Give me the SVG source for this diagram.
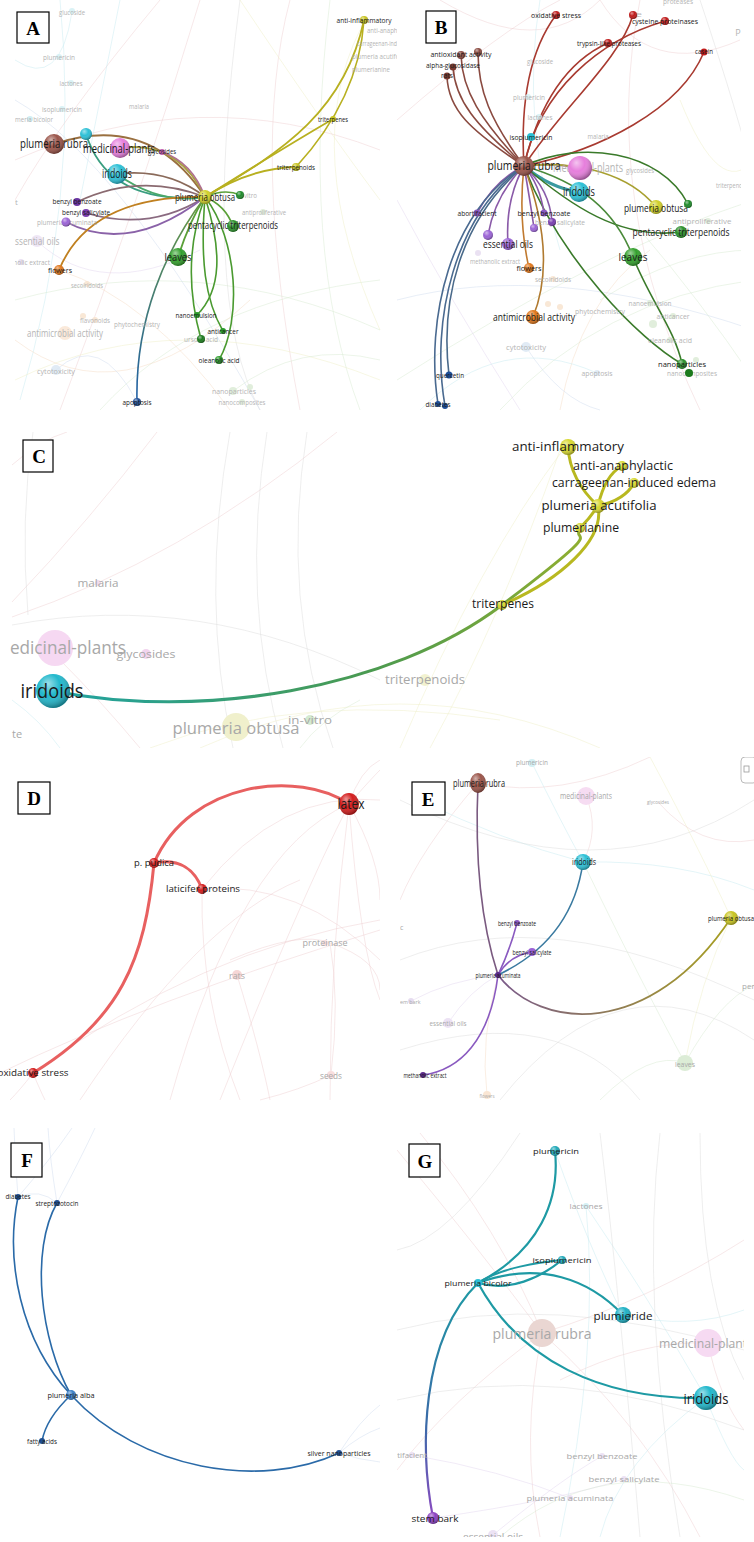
<svg xmlns="http://www.w3.org/2000/svg" width="754" height="1542" viewBox="0 0 754 1542">
<style>
.fl{fill:none;stroke-width:.8;opacity:.6}
.ed{fill:none;stroke-linecap:round}
.lab{font-family:"Open Sans","Liberation Sans",sans-serif;fill:#1a1a1a;text-anchor:middle}
.st{text-anchor:start}
.fd{fill:#a8a8a8}
.bx{fill:#fff;stroke:#000;stroke-width:1.2}
.bl{font-family:"Liberation Serif",serif;font-weight:bold;font-size:19px;text-anchor:middle;fill:#000}
.pk{stroke:#efcfd0}.cy{stroke:#c6eaf0}.gr{stroke:#d6ead0}.ye{stroke:#efefc6}.bu{stroke:#cfdcee}.pu{stroke:#e2d4ee}.gy{stroke:#dcdcdc}.or{stroke:#f4dcc4}
</style>
<defs>
<radialGradient id="sh" cx="40%" cy="35%" r="65%" fx="35%" fy="28%">
<stop offset="0" stop-color="#fff" stop-opacity=".55"/>
<stop offset=".5" stop-color="#fff" stop-opacity="0"/>
<stop offset="1" stop-color="#000" stop-opacity=".35"/>
</radialGradient>
<linearGradient id="gC" x1="0" x2="1" y1="0" y2="0"><stop offset="0" stop-color="#1fa3a3"/><stop offset=".6" stop-color="#4a9a50"/><stop offset="1" stop-color="#8fae30"/></linearGradient>
<linearGradient id="gE" x1="0" x2="1" y1="0" y2="0"><stop offset="0" stop-color="#7a5a8a"/><stop offset="1" stop-color="#a8a020"/></linearGradient>
<linearGradient id="gG" x1="0" x2="0" y1="0" y2="1"><stop offset="0" stop-color="#1e9aa4"/><stop offset=".6" stop-color="#3a6aa8"/><stop offset="1" stop-color="#8a4ac0"/></linearGradient>
<linearGradient id="gAp" x1="0" x2="0" y1="1" y2="0"><stop offset="0" stop-color="#1f5fa8"/><stop offset="1" stop-color="#6a9a40"/></linearGradient>
<clipPath id="cA"><rect x="15" y="0" width="382" height="411"/></clipPath>
<clipPath id="cB"><rect x="397" y="0" width="344" height="411"/></clipPath>
<clipPath id="cC"><rect x="10" y="432" width="712" height="316"/></clipPath>
<clipPath id="cD"><rect x="0" y="760" width="380" height="341"/></clipPath>
<clipPath id="cE"><rect x="400" y="757" width="354" height="344"/></clipPath>
<clipPath id="cF"><rect x="0" y="1128" width="380" height="412"/></clipPath>
<clipPath id="cG"><rect x="397" y="1133" width="347" height="404"/></clipPath>
</defs>
<rect width="754" height="1542" fill="#fff"/>

<!-- ================= PANEL A ================= -->
<g id="panelA" clip-path="url(#cA)">
<g id="A-faint">
<path class="fl cy" d="M60,0 Q80,200 20,400"/>
<path class="fl pk" d="M160,0 Q60,120 15,200"/>
<path class="fl pk" d="M200,0 Q140,200 60,410"/>
<path class="fl gy" d="M240,0 Q200,300 260,410"/>
<path class="fl pk" d="M290,0 Q250,150 300,410"/>
<path class="fl gr" d="M15,300 Q200,250 380,330"/>
<path class="fl ye" d="M15,380 Q180,300 380,380"/>
<path class="fl gr" d="M100,410 Q200,300 380,280"/>
<path class="fl or" d="M15,340 Q120,420 250,300"/>
<path class="fl ye" d="M240,0 Q320,120 380,200"/>
<path class="fl pk" d="M15,160 Q200,80 380,150"/>
<path class="fl cy" d="M120,0 Q100,100 80,200"/>
<path class="fl bu" d="M15,100 Q120,160 260,410"/>
<path class="fl gr" d="M330,0 Q300,250 360,410"/>
<path class="fl ye" d="M360,30 Q300,150 380,330"/>
<path class="fl cy" d="M15,60 Q60,90 72,12"/>
<path class="fl or" d="M59,270 Q150,300 230,410"/>
<path class="fl bu" d="M56,370 Q100,330 137,402"/>
<path class="fl gr" d="M233,391 Q300,340 380,360"/>
<path class="fl pu" d="M37,241 Q100,300 200,250"/>
</g>
<g id="A-edges">
<path class="ed" stroke="#9a7040" stroke-width="1.8" d="M54,144 Q150,112 205,197"/>
<path class="ed" stroke="#a8a040" stroke-width="1.8" d="M120,148 Q178,140 205,197"/>
<path class="ed" stroke="#3a9e80" stroke-width="1.8" d="M86,134 Q108,205 205,197"/>
<path class="ed" stroke="#4aa86a" stroke-width="1.8" d="M117,174 Q160,205 205,197"/>
<path class="ed" stroke="#8a6a5a" stroke-width="1.8" d="M117,174 Q168,168 205,197"/>
<path class="ed" stroke="#b07090" stroke-width="1.6" d="M162,152 Q192,162 205,197"/>
<path class="ed" stroke="#8a6a70" stroke-width="1.6" d="M77,202 Q140,172 205,197"/>
<path class="ed" stroke="#8a6a80" stroke-width="1.8" d="M86,213 Q150,232 205,197"/>
<path class="ed" stroke="#8a62a8" stroke-width="1.8" d="M66,222 Q130,255 205,197"/>
<path class="ed" stroke="#c08020" stroke-width="1.8" d="M59,270 Q90,195 205,197"/>
<path class="ed" stroke="#5aa038" stroke-width="1.8" d="M178,257 Q190,220 205,197"/>
<path class="ed" stroke="#5aa038" stroke-width="1.8" d="M233,226 Q225,205 205,197"/>
<path class="ed" stroke="#4a9a30" stroke-width="1.6" d="M205,197 C185,250 190,300 201,339"/>
<path class="ed" stroke="#4a9a30" stroke-width="1.6" d="M205,197 C222,250 222,290 197,315"/>
<path class="ed" stroke="#4a9a30" stroke-width="1.6" d="M205,197 C200,260 205,300 223,331"/>
<path class="ed" stroke="#4a9a30" stroke-width="1.6" d="M205,197 C238,240 242,320 219,360"/>
<path class="ed" stroke="url(#gAp)" stroke-width="1.6" d="M137,402 C135,320 165,250 205,197"/>
<path class="ed" stroke="#b8b020" stroke-width="1.8" d="M205,197 Q250,168 296,167"/>
<path class="ed" stroke="#b8b020" stroke-width="1.8" d="M205,197 Q280,150 333,119"/>
<path class="ed" stroke="#b8b020" stroke-width="1.8" d="M205,197 C285,150 345,110 364,20"/>
<path class="ed" stroke="#b8b020" stroke-width="1.6" d="M296,167 C330,130 360,80 364,20"/>
<path class="ed" stroke="#5aa038" stroke-width="1.4" d="M205,197 Q225,188 240,195"/>
</g>
<g id="A-nodes">
<g id="A-faded" opacity=".85">
<circle cx="72" cy="11" r="3" fill="#d4f0f4"/><text class="lab fd" x="72" y="15" font-size="7" textLength="26" lengthAdjust="spacingAndGlyphs">glucoside</text>
<circle cx="59" cy="57" r="3" fill="#d4f0f4"/><text class="lab fd" x="59" y="60" font-size="7" textLength="32" lengthAdjust="spacingAndGlyphs">plumericin</text>
<circle cx="71" cy="83" r="3" fill="#d4f0f4"/><text class="lab fd" x="71" y="86" font-size="7" textLength="23" lengthAdjust="spacingAndGlyphs">lactones</text>
<circle cx="62" cy="109" r="3" fill="#d4f0f4"/><text class="lab fd" x="62" y="112" font-size="7" textLength="40" lengthAdjust="spacingAndGlyphs">isoplumericin</text>
<circle cx="30" cy="119" r="3" fill="#c8ecf2"/><text class="lab fd st" x="15" y="122" font-size="7" textLength="38" lengthAdjust="spacingAndGlyphs">meria bicolor</text>
<text class="lab fd" x="139" y="109" font-size="7" textLength="20" lengthAdjust="spacingAndGlyphs" fill="#a89098">malaria</text>
<text class="lab fd" x="247" y="198" font-size="7" textLength="20" lengthAdjust="spacingAndGlyphs">in vitro</text>
<circle cx="263" cy="212" r="3" fill="#dcecd6"/><text class="lab fd" x="264" y="215" font-size="7" textLength="44" lengthAdjust="spacingAndGlyphs">antiproliferative</text>
<text class="lab fd st" x="367" y="33" font-size="7" textLength="48" lengthAdjust="spacingAndGlyphs">anti-anaphylactic</text>
<text class="lab fd st" x="357" y="46" font-size="7" textLength="70" lengthAdjust="spacingAndGlyphs">carrageenan-induced edema</text>
<text class="lab fd st" x="352" y="59" font-size="7" textLength="54" lengthAdjust="spacingAndGlyphs">plumeria acutifolia</text>
<text class="lab fd st" x="352" y="72" font-size="7" textLength="38" lengthAdjust="spacingAndGlyphs">plumerianine</text>
<text class="lab fd st" x="15" y="205" font-size="8">t</text>
<text class="lab fd" x="67" y="225" font-size="7" textLength="60" lengthAdjust="spacingAndGlyphs" fill="#c0b0d0">plumeria acuminata</text>
<circle cx="37" cy="241" r="6" fill="#ece2f4"/><text class="lab fd" x="35" y="245" font-size="11" textLength="49" lengthAdjust="spacingAndGlyphs">essential oils</text>
<circle cx="21" cy="262" r="3" fill="#e6dcf0"/><text class="lab fd st" x="-6" y="265" font-size="7" textLength="56" lengthAdjust="spacingAndGlyphs">methanolic extract</text>
<circle cx="87" cy="284" r="3" fill="#f8e4d0"/><text class="lab fd" x="87" y="288" font-size="7" textLength="32" lengthAdjust="spacingAndGlyphs">secoiridoids</text>
<circle cx="83" cy="316" r="3" fill="#f8e4d0"/><circle cx="95" cy="320" r="3" fill="#f8e4d0"/><text class="lab fd" x="95" y="323" font-size="7" textLength="30" lengthAdjust="spacingAndGlyphs">flavonoids</text>
<circle cx="65" cy="333" r="7" fill="#fae6d4"/><text class="lab fd" x="65" y="337" font-size="10" textLength="76" lengthAdjust="spacingAndGlyphs">antimicrobial activity</text>
<text class="lab fd" x="137" y="327" font-size="8" textLength="46" lengthAdjust="spacingAndGlyphs">phytochemistry</text>
<circle cx="56" cy="370" r="5" fill="#dce8f4"/><text class="lab fd" x="56" y="374" font-size="8" textLength="38" lengthAdjust="spacingAndGlyphs">cytotoxicity</text>
<text class="lab fd" x="201" y="342" font-size="7" textLength="34" lengthAdjust="spacingAndGlyphs">ursolic acid</text>
<circle cx="233" cy="391" r="4" fill="#dcecd6"/><circle cx="250" cy="387" r="3" fill="#dcecd6"/><text class="lab fd" x="234" y="394" font-size="8" textLength="44" lengthAdjust="spacingAndGlyphs">nanoparticles</text>
<circle cx="242" cy="402" r="3" fill="#dcecd6"/><text class="lab fd" x="242" y="405" font-size="7" textLength="47" lengthAdjust="spacingAndGlyphs">nanocomposites</text>
</g>
<g id="A-plumeria-rubra"><circle cx="54" cy="144" r="10" fill="#9a5449"/><circle cx="54" cy="144" r="10" fill="url(#sh)"/><text class="lab" x="54" y="148" font-size="13" textLength="68" lengthAdjust="spacingAndGlyphs">plumeria rubra</text></g>
<g id="A-cyan"><circle cx="86" cy="134" r="6" fill="#2cc0d6"/><circle cx="86" cy="134" r="6" fill="url(#sh)"/></g>
<g id="A-medicinal-plants"><circle cx="120" cy="148" r="10" fill="#e67edc"/><circle cx="120" cy="148" r="10" fill="url(#sh)"/><text class="lab" x="119" y="153" font-size="12" textLength="72" lengthAdjust="spacingAndGlyphs">medicinal-plants</text></g>
<g id="A-glycosides"><circle cx="162" cy="152" r="3" fill="#c060b0"/><text class="lab" x="162" y="154" font-size="7" textLength="28" lengthAdjust="spacingAndGlyphs" fill="#333">glycosides</text></g>
<g id="A-iridoids"><circle cx="117" cy="174" r="10" fill="#2cc0d6"/><circle cx="117" cy="174" r="10" fill="url(#sh)"/><text class="lab" x="117" y="178" font-size="12" textLength="30" lengthAdjust="spacingAndGlyphs">iridoids</text></g>
<g id="A-in-vitro"><circle cx="240" cy="195" r="4" fill="#1f8a2a"/><circle cx="240" cy="195" r="4" fill="url(#sh)"/></g>
<g id="A-plumeria-obtusa"><circle cx="205" cy="197" r="7" fill="#d0cf28"/><circle cx="205" cy="197" r="7" fill="url(#sh)"/><text class="lab" x="205" y="201" font-size="11" textLength="60" lengthAdjust="spacingAndGlyphs">plumeria obtusa</text></g>
<g id="A-triterpenoids"><circle cx="296" cy="167" r="4" fill="#c8c420"/><circle cx="296" cy="167" r="4" fill="url(#sh)"/><text class="lab" x="296" y="170" font-size="8" textLength="38" lengthAdjust="spacingAndGlyphs">triterpenoids</text></g>
<g id="A-triterpenes"><circle cx="333" cy="119" r="3" fill="#c8c420"/><text class="lab" x="333" y="122" font-size="8" textLength="30" lengthAdjust="spacingAndGlyphs">triterpenes</text></g>
<g id="A-anti-inflammatory"><circle cx="364" cy="20" r="4" fill="#c8c420"/><circle cx="364" cy="20" r="4" fill="url(#sh)"/><text class="lab" x="364" y="23" font-size="8" textLength="55" lengthAdjust="spacingAndGlyphs">anti-inflammatory</text></g>
<g id="A-benzyl-benzoate"><circle cx="77" cy="202" r="4" fill="#6a35a0"/><text class="lab" x="77" y="204" font-size="8" textLength="49" lengthAdjust="spacingAndGlyphs">benzyl benzoate</text></g>
<g id="A-benzyl-salicylate"><circle cx="86" cy="213" r="4" fill="#7c3fb0"/><text class="lab" x="86" y="215" font-size="8" textLength="48" lengthAdjust="spacingAndGlyphs">benzyl salicylate</text></g>
<g id="A-purple"><circle cx="66" cy="222" r="4.5" fill="#9b63d6"/><circle cx="66" cy="222" r="4.5" fill="url(#sh)"/></g>
<g id="A-flowers"><circle cx="59" cy="270" r="5" fill="#e0771b"/><circle cx="59" cy="270" r="5" fill="url(#sh)"/><text class="lab" x="60" y="273" font-size="8" textLength="24" lengthAdjust="spacingAndGlyphs">flowers</text></g>
<g id="A-leaves"><circle cx="178" cy="257" r="9" fill="#33a02c"/><circle cx="178" cy="257" r="9" fill="url(#sh)"/><text class="lab" x="178" y="261" font-size="11" textLength="27" lengthAdjust="spacingAndGlyphs">leaves</text></g>
<g id="A-pentacyclic"><circle cx="233" cy="226" r="6" fill="#2a8f2a"/><circle cx="233" cy="226" r="6" fill="url(#sh)"/><text class="lab" x="233" y="229" font-size="10" textLength="90" lengthAdjust="spacingAndGlyphs">pentacyclic triterpenoids</text></g>
<g id="A-nanoemulsion"><circle cx="197" cy="315" r="3" fill="#2a9a2a"/><text class="lab" x="196" y="318" font-size="7" textLength="41" lengthAdjust="spacingAndGlyphs">nanoemulsion</text></g>
<g id="A-anticancer"><circle cx="223" cy="331" r="3" fill="#2a9a2a"/><text class="lab" x="223" y="334" font-size="7" textLength="31" lengthAdjust="spacingAndGlyphs">anticancer</text></g>
<g id="A-ursolic"><circle cx="201" cy="339" r="4" fill="#1c7a1c"/><circle cx="201" cy="339" r="4" fill="url(#sh)"/></g>
<g id="A-oleanolic"><circle cx="219" cy="360" r="4" fill="#2a9a2a"/><circle cx="219" cy="360" r="4" fill="url(#sh)"/><text class="lab" x="219" y="363" font-size="7" textLength="41" lengthAdjust="spacingAndGlyphs">oleanolic acid</text></g>
<g id="A-apoptosis"><circle cx="137" cy="402" r="4" fill="#1f4f98"/><circle cx="137" cy="402" r="4" fill="url(#sh)"/><text class="lab" x="137" y="405" font-size="7" textLength="29" lengthAdjust="spacingAndGlyphs">apoptosis</text></g>
</g>
</g>
<g id="A-label"><rect class="bx" x="17" y="12" width="32" height="31"/><text class="bl" x="33" y="35">A</text></g>

<!-- ================= PANEL B ================= -->
<g id="panelB" clip-path="url(#cB)">
<g id="B-faint">
<path class="fl pk" d="M440,0 Q540,60 600,0"/>
<path class="fl pk" d="M600,0 Q650,80 740,40"/>
<path class="fl cy" d="M540,0 Q520,120 560,250"/>
<path class="fl pk" d="M640,0 Q600,200 700,410"/>
<path class="fl bu" d="M397,300 Q550,260 754,330"/>
<path class="fl gr" d="M397,380 Q600,250 754,200"/>
<path class="fl gr" d="M500,410 Q600,300 754,280"/>
<path class="fl ye" d="M680,100 Q720,200 754,160"/>
<path class="fl pu" d="M397,200 Q450,300 520,410"/>
<path class="fl gr" d="M640,230 Q700,300 754,380"/>
<path class="fl gy" d="M700,0 Q740,120 754,180"/>
<path class="fl or" d="M560,410 Q580,300 650,250"/>
<path class="fl gr" d="M600,300 Q680,250 754,250"/>
<path class="fl pk" d="M397,120 Q500,30 560,0"/>
<path class="fl bu" d="M526,347 Q560,400 600,410"/>
<path class="fl cy" d="M420,410 Q500,330 597,373"/>
</g>
<g id="B-edges">
<path class="ed" stroke="#8a4a40" stroke-width="1.6" d="M524,166 C490,120 478,90 478,52"/>
<path class="ed" stroke="#8a4a40" stroke-width="1.6" d="M524,166 C480,120 462,90 461,55"/>
<path class="ed" stroke="#8a4a40" stroke-width="1.6" d="M524,166 C475,125 455,100 453,67"/>
<path class="ed" stroke="#8a4a40" stroke-width="1.6" d="M524,166 C470,130 448,110 447,76"/>
<path class="ed" stroke="#a83a30" stroke-width="1.6" d="M524,166 C520,100 530,50 556,15"/>
<path class="ed" stroke="#a83a30" stroke-width="1.6" d="M524,166 C540,100 570,60 608,43"/>
<path class="ed" stroke="#a83a30" stroke-width="1.6" d="M524,166 C540,90 600,40 665,21"/>
<path class="ed" stroke="#a83a30" stroke-width="1.6" d="M524,166 C560,110 620,60 633,15"/>
<path class="ed" stroke="#a83a30" stroke-width="1.6" d="M524,166 C600,150 680,110 704,52"/>
<path class="ed" stroke="#3a9aa0" stroke-width="3" d="M524,166 Q550,188 579,192"/>
<path class="ed" stroke="#c07aa0" stroke-width="2" d="M524,166 Q552,162 580,168"/>
<path class="ed" stroke="#3a7a2a" stroke-width="1.6" d="M524,166 C580,140 660,150 688,204"/>
<path class="ed" stroke="#a8a030" stroke-width="1.6" d="M524,166 C580,160 630,175 656,207"/>
<path class="ed" stroke="#3a7a2a" stroke-width="1.6" d="M524,166 C570,205 620,240 681,232"/>
<path class="ed" stroke="#4a8a3a" stroke-width="1.6" d="M524,166 C580,182 615,210 633,257"/>
<path class="ed" stroke="#3a7a2a" stroke-width="1.6" d="M524,166 C560,260 640,340 682,364"/>
<path class="ed" stroke="#3a7a2a" stroke-width="1.6" d="M633,257 C650,300 675,330 682,364"/>
<path class="ed" stroke="#8a5aa8" stroke-width="1.6" d="M524,166 Q495,180 477,213"/>
<path class="ed" stroke="#8a5aa8" stroke-width="1.6" d="M524,166 Q540,185 544,213"/>
<path class="ed" stroke="#8a5aa8" stroke-width="1.6" d="M524,166 Q550,190 552,222"/>
<path class="ed" stroke="#8a5aa8" stroke-width="1.6" d="M524,166 Q530,200 534,228"/>
<path class="ed" stroke="#8a5aa8" stroke-width="1.6" d="M524,166 Q505,200 508,244"/>
<path class="ed" stroke="#8a5aa8" stroke-width="1.6" d="M524,166 Q495,195 488,235"/>
<path class="ed" stroke="#c07a30" stroke-width="1.6" d="M524,166 Q518,220 529,268"/>
<path class="ed" stroke="#b07a30" stroke-width="1.6" d="M524,166 C548,230 548,280 533,317"/>
<path class="ed" stroke="#4a6a8a" stroke-width="1.6" d="M524,166 C460,220 440,300 449,375"/>
<path class="ed" stroke="#4a6a90" stroke-width="1.6" d="M524,166 C450,210 425,320 438,404"/>
<path class="ed" stroke="#4a6a90" stroke-width="1.6" d="M524,166 C455,215 430,320 445,406"/>
</g>
<g id="B-nodes">
<g id="B-faded" opacity=".85">
<text class="lab fd" x="540" y="64" font-size="7" textLength="26" lengthAdjust="spacingAndGlyphs">glucoside</text>
<circle cx="528" cy="97" r="3" fill="#d4f0f4"/><text class="lab fd" x="529" y="100" font-size="7" textLength="32" lengthAdjust="spacingAndGlyphs">plumericin</text>
<circle cx="539" cy="117" r="3" fill="#d4f0f4"/><text class="lab fd" x="540" y="120" font-size="7" textLength="25" lengthAdjust="spacingAndGlyphs">lactones</text>
<text class="lab fd" x="598" y="139" font-size="7" textLength="21" lengthAdjust="spacingAndGlyphs" fill="#b8a0b0">malaria</text>
<text class="lab fd" x="678" y="4" font-size="7" textLength="30" lengthAdjust="spacingAndGlyphs">proteases</text>
<text class="lab fd" x="636" y="17" font-size="7" textLength="12" lengthAdjust="spacingAndGlyphs">se</text>
<text class="lab fd" x="738" y="36" font-size="9">P</text>
<text class="lab fd st" x="716" y="188" font-size="8" textLength="34" lengthAdjust="spacingAndGlyphs">triterpenoids</text>
<circle cx="478" cy="253" r="3" fill="#e6dcf0"/><text class="lab fd" x="495" y="264" font-size="7" textLength="50" lengthAdjust="spacingAndGlyphs">methanolic extract</text>
<circle cx="553" cy="279" r="3" fill="#f8e4d0"/><text class="lab fd" x="553" y="282" font-size="7" textLength="36" lengthAdjust="spacingAndGlyphs">secoiridoids</text>
<circle cx="548" cy="304" r="3" fill="#f8e4d0"/><circle cx="560" cy="307" r="3" fill="#f8e4d0"/>
<text class="lab fd" x="600" y="314" font-size="7" textLength="50" lengthAdjust="spacingAndGlyphs">phytochemistry</text>
<circle cx="526" cy="347" r="5" fill="#dce8f4"/><text class="lab fd" x="526" y="350" font-size="8" textLength="40" lengthAdjust="spacingAndGlyphs">cytotoxicity</text>
<circle cx="597" cy="373" r="3" fill="#dce8f4"/><text class="lab fd" x="597" y="376" font-size="7" textLength="31" lengthAdjust="spacingAndGlyphs">apoptosis</text>
<circle cx="650" cy="303" r="3" fill="#dcecd6"/><text class="lab fd" x="650" y="306" font-size="7" textLength="43" lengthAdjust="spacingAndGlyphs">nanoemulsion</text>
<circle cx="673" cy="316" r="3" fill="#dcecd6"/><text class="lab fd" x="673" y="319" font-size="7" textLength="33" lengthAdjust="spacingAndGlyphs">anticancer</text>
<circle cx="653" cy="324" r="4" fill="#dcecd6"/>
<circle cx="670" cy="340" r="3" fill="#dcecd6"/><text class="lab fd" x="670" y="343" font-size="7" textLength="44" lengthAdjust="spacingAndGlyphs">oleanolic acid</text>
<circle cx="696" cy="360" r="3" fill="#dcecd6"/><text class="lab fd" x="692" y="376" font-size="7" textLength="50" lengthAdjust="spacingAndGlyphs">nanocomposites</text>
<circle cx="708" cy="221" r="3" fill="#dcecd6"/><text class="lab fd" x="702" y="224" font-size="7" textLength="59" lengthAdjust="spacingAndGlyphs">antiproliferative</text>
<text class="lab fd" x="560" y="225" font-size="7" textLength="50" lengthAdjust="spacingAndGlyphs">benzyl salicylate</text>
<text class="lab fd" x="588" y="172" font-size="12" textLength="70" lengthAdjust="spacingAndGlyphs" fill="#d0a8c8">medicinal-plants</text>
<text class="lab fd" x="640" y="173" font-size="7" textLength="28" lengthAdjust="spacingAndGlyphs" fill="#d8c0d0">glycosides</text>
</g>
<g id="B-plumeria-rubra"><circle cx="524" cy="166" r="10" fill="#9a5449"/><circle cx="524" cy="166" r="10" fill="url(#sh)"/><text class="lab" x="524" y="170" font-size="13" textLength="73" lengthAdjust="spacingAndGlyphs">plumeria rubra</text></g>
<g id="B-medicinal-plants"><circle cx="580" cy="168" r="12" fill="#e67edc"/><circle cx="580" cy="168" r="12" fill="url(#sh)"/></g>
<g id="B-iridoids"><circle cx="579" cy="192" r="10" fill="#2cc0d6"/><circle cx="579" cy="192" r="10" fill="url(#sh)"/><text class="lab" x="579" y="196" font-size="12" textLength="32" lengthAdjust="spacingAndGlyphs">iridoids</text></g>
<g id="B-isoplumericin"><circle cx="531" cy="137" r="4" fill="#2cc0d6"/><text class="lab" x="531" y="140" font-size="8" textLength="43" lengthAdjust="spacingAndGlyphs">isoplumericin</text></g>
<g id="B-oxidative-stress"><circle cx="556" cy="15" r="4" fill="#c01a1a"/><circle cx="556" cy="15" r="4" fill="url(#sh)"/><text class="lab" x="556" y="18" font-size="8" textLength="50" lengthAdjust="spacingAndGlyphs">oxidative stress</text></g>
<g id="B-red"><circle cx="633" cy="15" r="4" fill="#c01a1a"/><circle cx="633" cy="15" r="4" fill="url(#sh)"/></g>
<g id="B-cysteine"><circle cx="665" cy="21" r="4" fill="#c01a1a"/><circle cx="665" cy="21" r="4" fill="url(#sh)"/><text class="lab" x="665" y="24" font-size="8" textLength="66" lengthAdjust="spacingAndGlyphs">cysteine proteinases</text></g>
<g id="B-trypsin"><circle cx="608" cy="43" r="4" fill="#c01a1a"/><circle cx="608" cy="43" r="4" fill="url(#sh)"/><text class="lab" x="609" y="46" font-size="8" textLength="64" lengthAdjust="spacingAndGlyphs">trypsin-like proteases</text></g>
<g id="B-casein"><circle cx="704" cy="52" r="3.5" fill="#c01a1a"/><text class="lab" x="704" y="54" font-size="8" textLength="18" lengthAdjust="spacingAndGlyphs">casein</text></g>
<g id="B-antioxidant"><circle cx="478" cy="52" r="4" fill="#8a4a40"/><circle cx="478" cy="52" r="4" fill="url(#sh)"/><circle cx="461" cy="55" r="4" fill="#8a4a40"/><circle cx="461" cy="55" r="4" fill="url(#sh)"/><text class="lab" x="461" y="57" font-size="8" textLength="61" lengthAdjust="spacingAndGlyphs">antioxidant activity</text></g>
<g id="B-alpha-glucosidase"><circle cx="453" cy="67" r="3.5" fill="#7a3a30"/><text class="lab" x="453" y="68" font-size="8" textLength="54" lengthAdjust="spacingAndGlyphs" fill="#333">alpha-glucosidase</text></g>
<g id="B-rats"><circle cx="447" cy="76" r="3.5" fill="#7a3a30"/><text class="lab" x="447" y="78" font-size="7" textLength="12" lengthAdjust="spacingAndGlyphs" fill="#888">rats</text></g>
<g id="B-plumeria-obtusa"><circle cx="656" cy="207" r="7" fill="#d0cf28"/><circle cx="656" cy="207" r="7" fill="url(#sh)"/><text class="lab" x="656" y="212" font-size="11" textLength="64" lengthAdjust="spacingAndGlyphs">plumeria obtusa</text></g>
<g id="B-green"><circle cx="688" cy="204" r="4" fill="#1f8a2a"/><circle cx="688" cy="204" r="4" fill="url(#sh)"/></g>
<g id="B-abortifacient"><circle cx="477" cy="213" r="3.5" fill="#8a5ac0"/><text class="lab" x="477" y="216" font-size="7" textLength="39" lengthAdjust="spacingAndGlyphs">abortifacient</text></g>
<g id="B-benzyl-benzoate"><circle cx="544" cy="213" r="3.5" fill="#8a5ac0"/><text class="lab" x="544" y="216" font-size="7.5" textLength="53" lengthAdjust="spacingAndGlyphs">benzyl benzoate</text></g>
<g id="B-purple1"><circle cx="552" cy="222" r="4" fill="#7a3fb0"/><circle cx="552" cy="222" r="4" fill="url(#sh)"/></g>
<g id="B-purple2"><circle cx="534" cy="228" r="4" fill="#9b63d6"/><circle cx="534" cy="228" r="4" fill="url(#sh)"/></g>
<g id="B-essential-oils"><circle cx="488" cy="235" r="5" fill="#9b63d6"/><circle cx="488" cy="235" r="5" fill="url(#sh)"/><circle cx="508" cy="244" r="6" fill="#9b63d6"/><circle cx="508" cy="244" r="6" fill="url(#sh)"/><text class="lab" x="508" y="248" font-size="10" textLength="50" lengthAdjust="spacingAndGlyphs">essential oils</text></g>
<g id="B-flowers"><circle cx="529" cy="268" r="5" fill="#e0771b"/><circle cx="529" cy="268" r="5" fill="url(#sh)"/><text class="lab" x="529" y="271" font-size="8" textLength="25" lengthAdjust="spacingAndGlyphs">flowers</text></g>
<g id="B-antimicrobial"><circle cx="533" cy="317" r="7" fill="#e0771b"/><circle cx="533" cy="317" r="7" fill="url(#sh)"/><text class="lab" x="534" y="321" font-size="10" textLength="82" lengthAdjust="spacingAndGlyphs">antimicrobial activity</text></g>
<g id="B-quercetin"><circle cx="449" cy="375" r="3.5" fill="#1f4f98"/><text class="lab" x="450" y="378" font-size="7" textLength="28" lengthAdjust="spacingAndGlyphs">quercetin</text></g>
<g id="B-diabetes"><circle cx="438" cy="404" r="3" fill="#1f4f98"/><circle cx="445" cy="406" r="3" fill="#1f4f98"/><text class="lab" x="438" y="407" font-size="7" textLength="25" lengthAdjust="spacingAndGlyphs">diabetes</text></g>
<g id="B-leaves"><circle cx="633" cy="257" r="9" fill="#33a02c"/><circle cx="633" cy="257" r="9" fill="url(#sh)"/><text class="lab" x="633" y="261" font-size="11" textLength="29" lengthAdjust="spacingAndGlyphs">leaves</text></g>
<g id="B-pentacyclic"><circle cx="681" cy="232" r="6" fill="#2a8f2a"/><circle cx="681" cy="232" r="6" fill="url(#sh)"/><text class="lab" x="681" y="236" font-size="10" textLength="97" lengthAdjust="spacingAndGlyphs">pentacyclic triterpenoids</text></g>
<g id="B-nanoparticles"><circle cx="682" cy="364" r="5" fill="#2a8f2a"/><circle cx="682" cy="364" r="5" fill="url(#sh)"/><circle cx="689" cy="373" r="4" fill="#1c7a1c"/><text class="lab" x="682" y="367" font-size="8" textLength="48" lengthAdjust="spacingAndGlyphs">nanoparticles</text></g>
</g>
</g>
<g id="B-label"><rect class="bx" x="426" y="11" width="30" height="32"/><text class="bl" x="441" y="34">B</text></g>

<!-- ================= PANEL C ================= -->
<g id="panelC" clip-path="url(#cC)">
<g id="C-faint">
<path class="fl pk" d="M12,465 Q40,440 67,432"/>
<path class="fl pk" d="M12,602 Q90,520 157,432"/>
<path class="fl pk" d="M12,617 Q180,560 337,432"/>
<path class="fl gy" d="M33,432 Q20,520 28,615"/>
<path class="fl gy" d="M230,432 Q200,600 233,748"/>
<path class="fl gy" d="M267,432 Q240,600 283,748"/>
<path class="fl gy" d="M307,432 Q280,600 333,748"/>
<path class="fl gy" d="M12,625 Q200,590 380,680"/>
<path class="fl ye" d="M150,748 Q300,690 500,720"/>
<path class="fl ye" d="M200,748 Q400,660 600,748"/>
<path class="fl ye" d="M565,447 Q480,560 400,748"/>
<path class="fl ye" d="M560,450 Q500,620 430,748"/>
<path class="fl cy" d="M12,700 Q40,720 60,748"/>
<path class="fl gr" d="M300,748 Q320,720 360,700"/>
<path class="fl pk" d="M60,660 Q100,700 140,748"/>
</g>
<g id="C-edges">
<path class="ed" stroke="url(#gC)" stroke-width="3" d="M53,691 C200,720 390,690 502,605 S570,545 580,528"/>
<path class="ed" stroke="#b8b820" stroke-width="3" d="M502,605 C560,580 605,540 598,506"/>
<path class="ed" stroke="#b8b820" stroke-width="3" d="M580,528 Q590,518 598,506"/>
<path class="ed" stroke="#b8b820" stroke-width="3" d="M598,506 Q570,480 568,447"/>
<path class="ed" stroke="#b8b820" stroke-width="3" d="M598,506 Q605,475 622,466"/>
<path class="ed" stroke="#b8b820" stroke-width="3" d="M598,506 Q625,500 634,483"/>
</g>
<g id="C-nodes">
<g id="C-faded">
<circle cx="98" cy="583" r="3" fill="#f2dcee"/><text class="lab fd" x="98" y="587" font-size="11" textLength="41" lengthAdjust="spacingAndGlyphs" fill="#a08a98">malaria</text>
<circle cx="55" cy="648" r="18" fill="#f6d8f2"/><text class="lab fd" x="60" y="654" font-size="18" textLength="132" lengthAdjust="spacingAndGlyphs" fill="#a8a0a8">medicinal-plants</text>
<circle cx="146" cy="654" r="5" fill="#f2d4ee"/><text class="lab fd" x="146" y="658" font-size="11" textLength="59" lengthAdjust="spacingAndGlyphs">glycosides</text>
<circle cx="236" cy="727" r="14" fill="#f0f0cc"/><text class="lab fd" x="236" y="734" font-size="17" textLength="127" lengthAdjust="spacingAndGlyphs" fill="#999">plumeria obtusa</text>
<circle cx="310" cy="720" r="5" fill="#d4ead0"/><text class="lab fd" x="310" y="724" font-size="11" textLength="44" lengthAdjust="spacingAndGlyphs">in-vitro</text>
<text class="lab fd st" x="12" y="738" font-size="11">te</text>
<circle cx="425" cy="680" r="6" fill="#f2f2d0"/><text class="lab fd" x="425" y="684" font-size="12" textLength="80" lengthAdjust="spacingAndGlyphs">triterpenoids</text>
</g>
<g id="C-iridoids"><circle cx="53" cy="691" r="17" fill="#22b8cc"/><circle cx="53" cy="691" r="17" fill="url(#sh)"/><text class="lab" x="52" y="698" font-size="20" textLength="63" lengthAdjust="spacingAndGlyphs" fill="#000">iridoids</text></g>
<g id="C-triterpenes"><circle cx="502" cy="605" r="5" fill="#d8d830"/><circle cx="502" cy="605" r="5" fill="url(#sh)"/><text class="lab" x="503" y="608" font-size="12" textLength="62" lengthAdjust="spacingAndGlyphs">triterpenes</text></g>
<g id="C-plumerianine"><circle cx="580" cy="528" r="5" fill="#d8d830"/><circle cx="580" cy="528" r="5" fill="url(#sh)"/><text class="lab" x="581" y="532" font-size="12" textLength="76" lengthAdjust="spacingAndGlyphs">plumerianine</text></g>
<g id="C-acutifolia"><circle cx="598" cy="506" r="7" fill="#d8d830"/><circle cx="598" cy="506" r="7" fill="url(#sh)"/><text class="lab" x="599" y="510" font-size="12.5" textLength="115" lengthAdjust="spacingAndGlyphs">plumeria acutifolia</text></g>
<g id="C-carrageenan"><circle cx="634" cy="483" r="5" fill="#d8d830"/><circle cx="634" cy="483" r="5" fill="url(#sh)"/><text class="lab" x="634" y="487" font-size="12" textLength="164" lengthAdjust="spacingAndGlyphs" fill="#555">carrageenan-induced edema</text></g>
<g id="C-anaphylactic"><circle cx="622" cy="466" r="5" fill="#d8d830"/><circle cx="622" cy="466" r="5" fill="url(#sh)"/><text class="lab" x="623" y="470" font-size="12" textLength="100" lengthAdjust="spacingAndGlyphs">anti-anaphylactic</text></g>
<g id="C-anti-inflammatory"><circle cx="568" cy="447" r="8" fill="#d8d830"/><circle cx="568" cy="447" r="8" fill="url(#sh)"/><text class="lab" x="568" y="451" font-size="12.5" textLength="112" lengthAdjust="spacingAndGlyphs">anti-inflammatory</text></g>
</g>
</g>
<g id="C-label"><rect class="bx" x="23" y="440" width="30" height="32"/><text class="bl" x="39" y="463">C</text></g>

<!-- ================= PANEL D ================= -->
<g id="panelD" clip-path="url(#cD)">
<g id="D-faint">
<path class="fl pk" d="M349,804 Q300,900 220,1100"/>
<path class="fl pk" d="M349,804 Q330,950 330,1100"/>
<path class="fl pk" d="M349,804 Q360,950 380,1000"/>
<path class="fl pk" d="M349,804 Q380,860 380,900"/>
<path class="fl pk" d="M349,804 Q370,780 380,770"/>
<path class="fl pk" d="M349,804 Q360,770 380,760"/>
<path class="fl pk" d="M0,1073 Q150,1000 380,930"/>
<path class="fl pk" d="M33,1073 Q200,950 380,920"/>
<path class="fl pk" d="M202,889 Q300,880 380,960"/>
<path class="fl pk" d="M202,889 Q200,1000 240,1100"/>
<path class="fl pk" d="M80,1100 Q200,920 300,880"/>
<path class="fl pk" d="M237,975 Q260,1050 270,1100"/>
<path class="fl pk" d="M331,1075 Q300,1090 260,1100"/>
<path class="fl pk" d="M331,1075 Q340,1000 330,943"/>
<path class="fl pk" d="M330,943 Q300,930 230,960"/>
<path class="fl pk" d="M349,804 Q240,850 170,1100"/>
<path class="fl pk" d="M33,1073 Q20,1090 10,1100"/>
<path class="fl pk" d="M33,1073 Q40,1090 45,1100"/>
<path class="fl pk" d="M202,889 Q280,790 380,800"/>
<path class="fl pk" d="M330,943 Q380,960 380,990"/>
</g>
<g id="D-edges">
<path class="ed" stroke="#e86060" stroke-width="3" d="M349,804 C300,770 190,780 154,863"/>
<path class="ed" stroke="#e86060" stroke-width="3" d="M154,863 C180,858 195,870 202,889"/>
<path class="ed" stroke="#e86060" stroke-width="3" d="M154,863 C145,960 120,1020 33,1073"/>
</g>
<g id="D-nodes">
<g id="D-faded">
<circle cx="325" cy="943" r="3" fill="#f8dede"/><text class="lab fd" x="325" y="946" font-size="9" textLength="45" lengthAdjust="spacingAndGlyphs" fill="#d0a8a8">proteinase</text>
<circle cx="237" cy="975" r="5" fill="#f6d6d6"/><text class="lab fd" x="237" y="979" font-size="9" textLength="16" lengthAdjust="spacingAndGlyphs" fill="#d8b0b0">rats</text>
<circle cx="331" cy="1075" r="4" fill="#f8dede"/><text class="lab fd" x="331" y="1079" font-size="9" textLength="22" lengthAdjust="spacingAndGlyphs" fill="#d8b0b0">seeds</text>
</g>
<g id="D-latex"><ellipse cx="349" cy="804" rx="10" ry="11" fill="#d41c1c"/><ellipse cx="349" cy="804" rx="10" ry="11" fill="url(#sh)"/><text class="lab" x="351" y="809" font-size="15" textLength="27" lengthAdjust="spacingAndGlyphs">latex</text></g>
<g id="D-p-pudica"><circle cx="154" cy="863" r="5" fill="#d41c1c"/><circle cx="154" cy="863" r="5" fill="url(#sh)"/><text class="lab" x="154" y="866" font-size="9" textLength="40" lengthAdjust="spacingAndGlyphs">p. pudica</text></g>
<g id="D-laticifer"><circle cx="202" cy="889" r="5" fill="#d41c1c"/><circle cx="202" cy="889" r="5" fill="url(#sh)"/><text class="lab" x="203" y="892" font-size="9" textLength="74" lengthAdjust="spacingAndGlyphs">laticifer proteins</text></g>
<g id="D-oxidative"><circle cx="33" cy="1073" r="5" fill="#d41c1c"/><circle cx="33" cy="1073" r="5" fill="url(#sh)"/><text class="lab" x="33" y="1076" font-size="9" textLength="71" lengthAdjust="spacingAndGlyphs">oxidative stress</text></g>
</g>
</g>
<g id="D-label"><rect class="bx" x="18" y="782" width="32" height="32"/><text class="bl" x="34" y="805">D</text></g>

<!-- ================= PANEL E ================= -->
<g id="panelE" clip-path="url(#cE)">
<g id="E-faint">
<path class="fl pk" d="M478,783 Q420,850 400,900"/>
<path class="fl pk" d="M478,783 Q560,800 650,757"/>
<path class="fl cy" d="M532,763 Q560,820 583,862"/>
<path class="fl cy" d="M583,862 Q680,860 754,890"/>
<path class="fl cy" d="M583,862 Q500,840 420,800"/>
<path class="fl pk" d="M586,796 Q600,830 583,862"/>
<path class="fl gr" d="M685,1063 Q640,980 583,862"/>
<path class="fl gr" d="M685,1063 Q720,1000 754,985"/>
<path class="fl gr" d="M600,1100 Q650,1050 685,1063"/>
<path class="fl gy" d="M400,960 Q550,900 754,1000"/>
<path class="fl pu" d="M411,1001 Q450,980 498,975"/>
<path class="fl pu" d="M448,1023 Q470,990 498,975"/>
<path class="fl or" d="M487,1095 Q480,1040 498,975"/>
<path class="fl gy" d="M400,800 Q600,900 754,800"/>
<path class="fl ye" d="M731,918 Q700,980 685,1063"/>
<path class="fl ye" d="M731,918 Q700,850 650,757"/>
<path class="fl gy" d="M500,1100 Q620,950 754,1040"/>
<path class="fl pk" d="M658,802 Q700,850 754,840"/>
<path class="fl gy" d="M400,1050 Q560,1000 640,1100"/>
</g>
<g id="E-edges">
<path class="ed" stroke="#7a5a80" stroke-width="1.6" d="M498,975 C480,920 475,850 478,783"/>
<path class="ed" stroke="#8a5ac0" stroke-width="1.6" d="M498,975 Q510,950 517,923"/>
<path class="ed" stroke="#8a5ac0" stroke-width="1.6" d="M498,975 Q510,955 532,952"/>
<path class="ed" stroke="#3a7aa0" stroke-width="1.6" d="M498,975 C540,955 575,920 583,862"/>
<path class="ed" stroke="url(#gE)" stroke-width="1.8" d="M498,975 C540,1030 650,1040 731,918"/>
<path class="ed" stroke="#8a5ac0" stroke-width="1.6" d="M498,975 C490,1040 460,1070 423,1075"/>
</g>
<g id="E-nodes">
<g id="E-faded">
<circle cx="532" cy="763" r="4" fill="#d4f0f4"/><text class="lab fd" x="532" y="765" font-size="8" textLength="32" lengthAdjust="spacingAndGlyphs">plumericin</text>
<circle cx="586" cy="796" r="9" fill="#f6dcf2"/><text class="lab fd" x="586" y="799" font-size="9" textLength="52" lengthAdjust="spacingAndGlyphs">medicinal-plants</text>
<text class="lab fd" x="658" y="804" font-size="6" textLength="22" lengthAdjust="spacingAndGlyphs">glycosides</text>
<circle cx="411" cy="1001" r="3" fill="#e6dcf0"/><text class="lab fd" x="408" y="1004" font-size="6" textLength="25" lengthAdjust="spacingAndGlyphs">stem bark</text>
<circle cx="448" cy="1023" r="5" fill="#ece2f4"/><text class="lab fd" x="448" y="1026" font-size="8" textLength="37" lengthAdjust="spacingAndGlyphs">essential oils</text>
<circle cx="487" cy="1095" r="4" fill="#fae6d4"/><text class="lab fd" x="487" y="1098" font-size="6" textLength="15" lengthAdjust="spacingAndGlyphs">flowers</text>
<circle cx="685" cy="1063" r="8" fill="#dcecd6"/><text class="lab fd" x="685" y="1067" font-size="8" textLength="20" lengthAdjust="spacingAndGlyphs">leaves</text>
<text class="lab fd st" x="742" y="989" font-size="8">pentacyclic</text>
<text class="lab fd st" x="400" y="930" font-size="7">c</text>
</g>
<g id="E-plumeria-rubra"><ellipse cx="478" cy="783" rx="8" ry="10" fill="#9a5449"/><ellipse cx="478" cy="783" rx="8" ry="10" fill="url(#sh)"/><text class="lab" x="479" y="787" font-size="10" textLength="52" lengthAdjust="spacingAndGlyphs">plumeria rubra</text></g>
<g id="E-iridoids"><circle cx="583" cy="862" r="8" fill="#2cc0d6"/><circle cx="583" cy="862" r="8" fill="url(#sh)"/><text class="lab" x="584" y="865" font-size="9" textLength="24" lengthAdjust="spacingAndGlyphs">iridoids</text></g>
<g id="E-plumeria-obtusa"><circle cx="731" cy="918" r="7" fill="#c8c420"/><circle cx="731" cy="918" r="7" fill="url(#sh)"/><text class="lab st" x="708" y="921" font-size="8" textLength="46" lengthAdjust="spacingAndGlyphs">plumeria obtusa</text></g>
<g id="E-benzyl-benzoate"><circle cx="517" cy="923" r="3" fill="#8a5ac0"/><text class="lab" x="517" y="926" font-size="6.5" textLength="38" lengthAdjust="spacingAndGlyphs">benzyl benzoate</text></g>
<g id="E-benzyl-salicylate"><circle cx="532" cy="952" r="4" fill="#9b63d6"/><text class="lab" x="532" y="955" font-size="6.5" textLength="39" lengthAdjust="spacingAndGlyphs">benzyl salicylate</text></g>
<g id="E-acuminata"><circle cx="498" cy="975" r="3" fill="#5a2a8a"/><text class="lab" x="498" y="978" font-size="6.5" textLength="45" lengthAdjust="spacingAndGlyphs">plumeria acuminata</text></g>
<g id="E-methanolic"><circle cx="423" cy="1075" r="3" fill="#5a2a8a"/><text class="lab" x="425" y="1078" font-size="6.5" textLength="43" lengthAdjust="spacingAndGlyphs">methanolic extract</text></g>
</g>
<g id="E-button"><rect x="741" y="757" width="16" height="26" rx="4" fill="#fff" stroke="#bbb"/><rect x="744" y="766" width="5" height="6" fill="none" stroke="#999" stroke-width=".8"/></g>
</g>
<g id="E-label"><rect class="bx" x="412" y="782" width="33" height="33"/><text class="bl" x="428" y="806">E</text></g>

<!-- ================= PANEL F ================= -->
<g id="panelF" clip-path="url(#cF)">
<g id="F-faint">
<path class="fl bu" d="M18,1197 Q15,1160 14,1128"/>
<path class="fl bu" d="M18,1197 Q50,1160 72,1128"/>
<path class="fl bu" d="M57,1203 Q50,1160 48,1128"/>
<path class="fl bu" d="M57,1203 Q80,1160 95,1128"/>
<path class="fl bu" d="M18,1197 Q40,1188 57,1203"/>
<path class="fl bu" d="M339,1453 Q360,1420 380,1405"/>
<path class="fl bu" d="M339,1453 Q360,1435 380,1428"/>
<path class="fl bu" d="M339,1453 Q360,1460 380,1462"/>
</g>
<g id="F-edges">
<path class="ed" stroke="#2a6aa8" stroke-width="1.6" d="M71,1395 C20,1340 5,1260 18,1197"/>
<path class="ed" stroke="#2a6aa8" stroke-width="1.6" d="M71,1395 C40,1340 30,1250 57,1203"/>
<path class="ed" stroke="#2a6aa8" stroke-width="1.6" d="M71,1395 C55,1410 45,1425 42,1441"/>
<path class="ed" stroke="#2a6aa8" stroke-width="1.6" d="M71,1395 C140,1470 260,1490 339,1453"/>
</g>
<g id="F-nodes">
<g id="F-diabetes"><circle cx="18" cy="1197" r="3" fill="#1f4f90"/><text class="lab" x="18" y="1199" font-size="6.5" textLength="25" lengthAdjust="spacingAndGlyphs">diabetes</text></g>
<g id="F-streptozotocin"><circle cx="57" cy="1203" r="3" fill="#1f4f90"/><text class="lab" x="57" y="1206" font-size="6.5" textLength="43" lengthAdjust="spacingAndGlyphs">streptozotocin</text></g>
<g id="F-plumeria-alba"><circle cx="71" cy="1395" r="5" fill="#3a80c8"/><circle cx="71" cy="1395" r="5" fill="url(#sh)"/><text class="lab" x="71" y="1398" font-size="8" textLength="47" lengthAdjust="spacingAndGlyphs">plumeria alba</text></g>
<g id="F-fatty-acids"><circle cx="42" cy="1441" r="3" fill="#1f4f90"/><text class="lab" x="42" y="1444" font-size="6.5" textLength="30" lengthAdjust="spacingAndGlyphs">fatty acids</text></g>
<g id="F-silver"><circle cx="339" cy="1453" r="3" fill="#1f4f90"/><text class="lab" x="339" y="1456" font-size="7" textLength="63" lengthAdjust="spacingAndGlyphs">silver nanoparticles</text></g>
</g>
</g>
<g id="F-label"><rect class="bx" x="11" y="1143" width="31" height="34"/><text class="bl" x="27" y="1167">F</text></g>

<!-- ================= PANEL G ================= -->
<g id="panelG" clip-path="url(#cG)">
<g id="G-faint">
<path class="fl pk" d="M397,1150 Q480,1250 542,1333"/>
<path class="fl pk" d="M420,1133 Q500,1230 542,1333"/>
<path class="fl pk" d="M542,1333 Q650,1300 744,1240"/>
<path class="fl pk" d="M542,1333 Q450,1400 397,1470"/>
<path class="fl pk" d="M542,1333 Q520,1440 540,1537"/>
<path class="fl pk" d="M542,1333 Q640,1420 700,1537"/>
<path class="fl cy" d="M555,1151 Q590,1250 623,1315"/>
<path class="fl cy" d="M586,1206 Q650,1300 706,1398"/>
<path class="fl cy" d="M586,1206 Q600,1350 560,1537"/>
<path class="fl cy" d="M623,1315 Q690,1330 744,1310"/>
<path class="fl cy" d="M706,1398 Q620,1460 600,1537"/>
<path class="fl cy" d="M706,1398 Q730,1460 744,1470"/>
<path class="fl pk" d="M708,1343 Q720,1400 744,1430"/>
<path class="fl pk" d="M708,1343 Q640,1340 560,1380"/>
<path class="fl gy" d="M397,1250 Q450,1240 520,1133"/>
<path class="fl gy" d="M600,1133 Q620,1300 640,1537"/>
<path class="fl gy" d="M660,1133 Q640,1300 680,1537"/>
<path class="fl gy" d="M700,1133 Q700,1300 744,1380"/>
<path class="fl pu" d="M412,1455 Q500,1470 570,1498"/>
<path class="fl pu" d="M602,1456 Q560,1480 493,1535"/>
<path class="fl pu" d="M624,1479 Q560,1500 433,1518"/>
<path class="fl gy" d="M397,1330 Q550,1290 744,1350"/>
<path class="fl gy" d="M397,1400 Q560,1360 744,1430"/>
<path class="fl gr" d="M500,1537 Q600,1450 744,1500"/>
</g>
<g id="G-edges">
<path class="ed" stroke="#1e9aa4" stroke-width="2.2" d="M478,1283 C540,1250 560,1200 555,1151"/>
<path class="ed" stroke="#1e9aa4" stroke-width="2.2" d="M478,1283 C510,1292 540,1278 562,1260"/>
<path class="ed" stroke="#1e9aa4" stroke-width="2" d="M478,1283 C500,1268 540,1262 562,1260"/>
<path class="ed" stroke="#1e9aa4" stroke-width="2.2" d="M478,1283 C540,1260 590,1280 623,1315"/>
<path class="ed" stroke="#1e9aa4" stroke-width="2.2" d="M478,1283 C520,1360 600,1400 706,1398"/>
<path class="ed" stroke="url(#gG)" stroke-width="2.2" d="M478,1283 C420,1340 420,1450 433,1518"/>
</g>
<g id="G-nodes">
<g id="G-faded">
<circle cx="586" cy="1206" r="3" fill="#d4f0f4"/><text class="lab fd" x="586" y="1209" font-size="7.5" textLength="33" lengthAdjust="spacingAndGlyphs">lactones</text>
<circle cx="542" cy="1333" r="14" fill="#ead6d2"/><text class="lab fd" x="542" y="1339" font-size="15" textLength="99" lengthAdjust="spacingAndGlyphs">plumeria rubra</text>
<circle cx="708" cy="1343" r="14" fill="#f6daf2"/><text class="lab fd st" x="659" y="1348" font-size="13" textLength="94" lengthAdjust="spacingAndGlyphs">medicinal-plants</text>
<circle cx="412" cy="1455" r="3" fill="#ece2f4"/><text class="lab fd st" x="380" y="1458" font-size="7" textLength="47" lengthAdjust="spacingAndGlyphs">abortifacient</text>
<circle cx="602" cy="1456" r="3" fill="#ece2f4"/><text class="lab fd" x="602" y="1459" font-size="8" textLength="71" lengthAdjust="spacingAndGlyphs">benzyl benzoate</text>
<circle cx="624" cy="1479" r="3" fill="#ece2f4"/><text class="lab fd" x="624" y="1482" font-size="8" textLength="71" lengthAdjust="spacingAndGlyphs">benzyl salicylate</text>
<circle cx="570" cy="1498" r="3" fill="#ece2f4"/><text class="lab fd" x="570" y="1501" font-size="8" textLength="87" lengthAdjust="spacingAndGlyphs">plumeria acuminata</text>
<circle cx="493" cy="1535" r="5" fill="#ece2f4"/><text class="lab fd" x="493" y="1540" font-size="9" textLength="60" lengthAdjust="spacingAndGlyphs">essential oils</text>
</g>
<g id="G-plumericin"><circle cx="555" cy="1151" r="5" fill="#1fa8b8"/><circle cx="555" cy="1151" r="5" fill="url(#sh)"/><text class="lab" x="556" y="1154" font-size="7.5" textLength="46" lengthAdjust="spacingAndGlyphs">plumericin</text></g>
<g id="G-isoplumericin"><circle cx="562" cy="1260" r="4" fill="#1fa8b8"/><circle cx="562" cy="1260" r="4" fill="url(#sh)"/><text class="lab" x="562" y="1263" font-size="7.5" textLength="59" lengthAdjust="spacingAndGlyphs">isoplumericin</text></g>
<g id="G-plumeria-bicolor"><circle cx="478" cy="1283" r="4" fill="#2cc0d6"/><text class="lab" x="478" y="1286" font-size="7.5" textLength="67" lengthAdjust="spacingAndGlyphs">plumeria bicolor</text></g>
<g id="G-plumieride"><circle cx="623" cy="1315" r="8" fill="#1fb0c4"/><circle cx="623" cy="1315" r="8" fill="url(#sh)"/><text class="lab" x="623" y="1320" font-size="11" textLength="59" lengthAdjust="spacingAndGlyphs">plumieride</text></g>
<g id="G-iridoids"><circle cx="706" cy="1398" r="12" fill="#22b8cc"/><circle cx="706" cy="1398" r="12" fill="url(#sh)"/><text class="lab" x="706" y="1404" font-size="14" textLength="45" lengthAdjust="spacingAndGlyphs">iridoids</text></g>
<g id="G-stem-bark"><circle cx="433" cy="1518" r="6" fill="#8a40c0"/><circle cx="433" cy="1518" r="6" fill="url(#sh)"/><text class="lab" x="435" y="1522" font-size="9" textLength="47" lengthAdjust="spacingAndGlyphs">stem bark</text></g>
</g>
</g>
<g id="G-label"><rect class="bx" x="409" y="1144" width="31" height="33"/><text class="bl" x="425" y="1168">G</text></g>
</svg>
